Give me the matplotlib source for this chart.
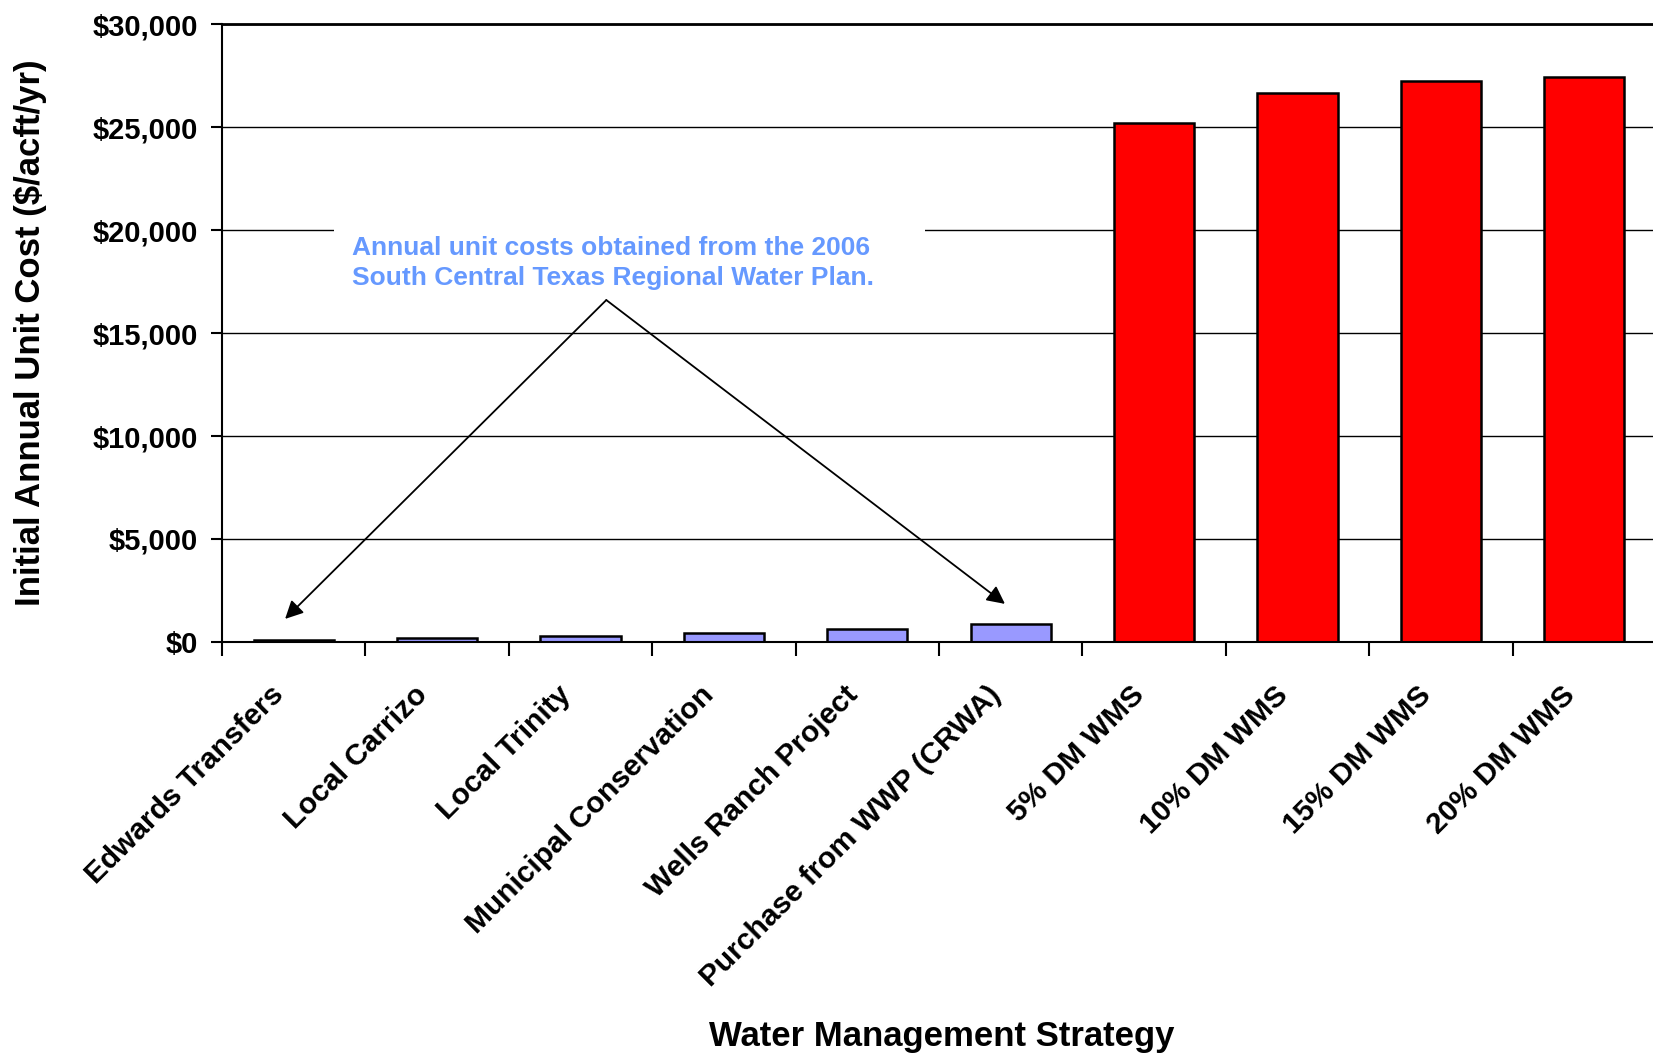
import matplotlib.pyplot as plt
from matplotlib.patches import Rectangle
from matplotlib.ticker import FuncFormatter
from matplotlib.transforms import ScaledTranslation

# 各水管理策略的年单位成本
strategies = ['Edwards Transfers', 'Local Carrizo', 'Local Trinity',
              'Municipal Conservation', 'Wells Ranch Project',
              'Purchase from WWP (CRWA)', '5% DM WMS', '10% DM WMS',
              '15% DM WMS', '20% DM WMS']
unit_costs = [85, 200, 310, 420, 645, 860, 25200, 26650, 27230, 27430]
bar_colors = ['#9999FF'] * 6 + ['#FF0000'] * 4

plt.rcParams['font.family'] = ['Liberation Sans', 'DejaVu Sans']
plt.rcParams['font.weight'] = 'bold'

fig = plt.figure(figsize=(16.53, 10.58), dpi=100)
ax = fig.add_axes([0.1343, 0.3932, 0.8675, 0.5841])

x = list(range(len(strategies)))
ax.bar(x, unit_costs, width=0.56, color=bar_colors, edgecolor='black',
       linewidth=1.8, zorder=2)

ax.set_xlim(-0.5, len(strategies) - 0.5)
ax.set_ylim(0, 30000)
ax.set_yticks(range(0, 30001, 5000))
ax.yaxis.set_major_formatter(FuncFormatter(lambda v, p: '${:,.0f}'.format(v)))
ax.set_axisbelow(True)
ax.yaxis.grid(True, color='black', linewidth=1.0)

# 刻度在类别之间，标签在类别中心
ax.set_xticks([i - 0.5 for i in range(len(strategies) + 1)])
ax.set_xticklabels([])
ax.set_xticks(x, minor=True)
ax.set_xticklabels(strategies, minor=True, rotation=45, ha='right', va='center',
                   rotation_mode='anchor', fontsize=21.5, fontweight='bold')
ax.tick_params(axis='x', which='minor', length=0, pad=35)
ax.tick_params(axis='x', which='major', length=10, width=1.5, direction='out')
ax.tick_params(axis='y', length=8, width=1.5, direction='out', labelsize=21, pad=9)
for lab in ax.get_yticklabels():
    lab.set_fontweight('bold')
# 标签稍向左移
shift = ScaledTranslation(-0.14, 0, fig.dpi_scale_trans)
for lab in ax.get_xticklabels(minor=True):
    lab.set_transform(lab.get_transform() + shift)

ax.spines['right'].set_visible(False)
ax.spines['left'].set_linewidth(1.5)
ax.spines['bottom'].set_linewidth(1.5)
ax.spines['top'].set_linewidth(2.0)

ax.set_ylabel('Initial Annual Unit Cost ($/acft/yr)', fontsize=25, fontweight='bold')
ax.yaxis.set_label_coords(-0.122, 0.5)
ax.set_xlabel('Water Management Strategy', fontsize=25, fontweight='bold')
ax.xaxis.set_label_coords(0.502, -0.612)

# 注释文字背景，遮住网格线
ax.add_patch(Rectangle((0.281, 16200), 4.12, 5200, facecolor='white',
                       edgecolor='none', zorder=1))
ax.text(0.407, 18400, 'Annual unit costs obtained from the 2006\n'
        'South Central Texas Regional Water Plan.',
        color='#6699FF', fontsize=19, fontweight='bold', va='center',
        ha='left', linespacing=1.36, zorder=3)

arrow = dict(arrowstyle='-|>', color='black', lw=1.3, mutation_scale=27,
             shrinkA=0, shrinkB=0)
ax.annotate('', xy=(-0.06, 1120), xytext=(2.18, 16600), arrowprops=arrow, zorder=3)
ax.annotate('', xy=(4.96, 1850), xytext=(2.18, 16600), arrowprops=arrow, zorder=3)

plt.savefig('out.png', dpi=100)
